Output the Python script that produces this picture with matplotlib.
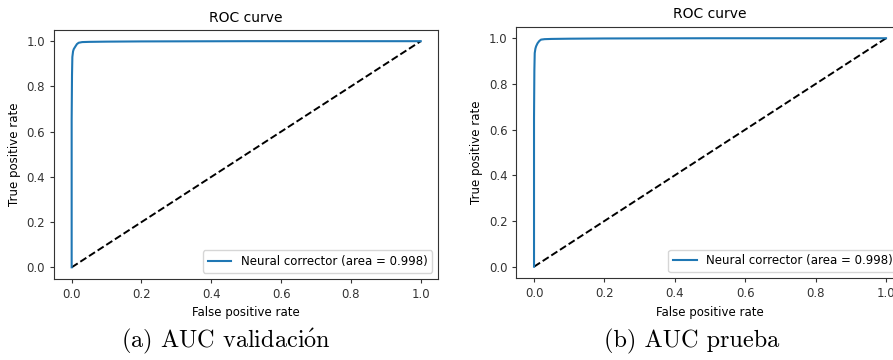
import matplotlib
matplotlib.use("Agg")
import matplotlib.pyplot as plt

plt.rcParams['mathtext.fontset'] = 'cm'

# ROC points (same curve shape in both panels)
fpr_val = [0.0, 0.0, 0.001, 0.002, 0.004, 0.006, 0.01, 0.015, 0.02, 0.03, 0.05, 0.1, 0.2, 0.5, 1.0]
tpr_val = [0.0, 0.65, 0.85, 0.93, 0.955, 0.965, 0.975, 0.987, 0.993, 0.996, 0.997, 0.998, 0.999, 1.0, 1.0]
fpr_test = [0.0, 0.0, 0.001, 0.002, 0.004, 0.006, 0.01, 0.015, 0.02, 0.03, 0.05, 0.1, 0.2, 0.5, 1.0]
tpr_test = [0.0, 0.65, 0.86, 0.935, 0.955, 0.965, 0.978, 0.988, 0.994, 0.996, 0.997, 0.998, 0.999, 1.0, 1.0]
auc_val = 0.998
auc_test = 0.998
captions = [r'(a) AUC validaci$\acute{\mathrm{o}}$n', '(b) AUC prueba']
ticks = [0.0, 0.2, 0.4, 0.6, 0.8, 1.0]

fs = 8.5
fig = plt.figure(figsize=(8.93, 3.6), dpi=100)

# right panel runs past the edge of the figure, as in the reference
ax1 = fig.add_axes([0.0607, 0.226, 0.430, 0.691])
ax2 = fig.add_axes([0.5783, 0.2275, 0.4336, 0.698])

for ax, fpr, tpr, auc in [(ax1, fpr_val, tpr_val, auc_val), (ax2, fpr_test, tpr_test, auc_test)]:
    ax.plot([0, 1], [0, 1], 'k--', lw=1.4)
    ax.plot(fpr, tpr, color='#1f77b4', lw=1.5, label='Neural corrector (area = {:.3f})'.format(auc))
    ax.set_xlabel('False positive rate', fontsize=fs)
    ax.set_ylabel('True positive rate', fontsize=fs)
    ax.set_title('ROC curve', fontsize=fs * 1.18)
    ax.set_xticks(ticks)
    ax.set_yticks(ticks)
    ax.tick_params(labelsize=fs, length=3, color='#333333', labelcolor='#333333')
    for s in ax.spines.values():
        s.set_color('#333333')
        s.set_linewidth(0.8)
    ax.legend(loc='lower right', fontsize=fs)

cap_font = 'cmr10'
fig.text(0.253, 0.036, captions[0], fontsize=17.5, family=cap_font, ha='center', va='baseline')
fig.text(0.775, 0.036, captions[1], fontsize=17.5, family=cap_font, ha='center', va='baseline')

fig.savefig('out.png', dpi=100)
